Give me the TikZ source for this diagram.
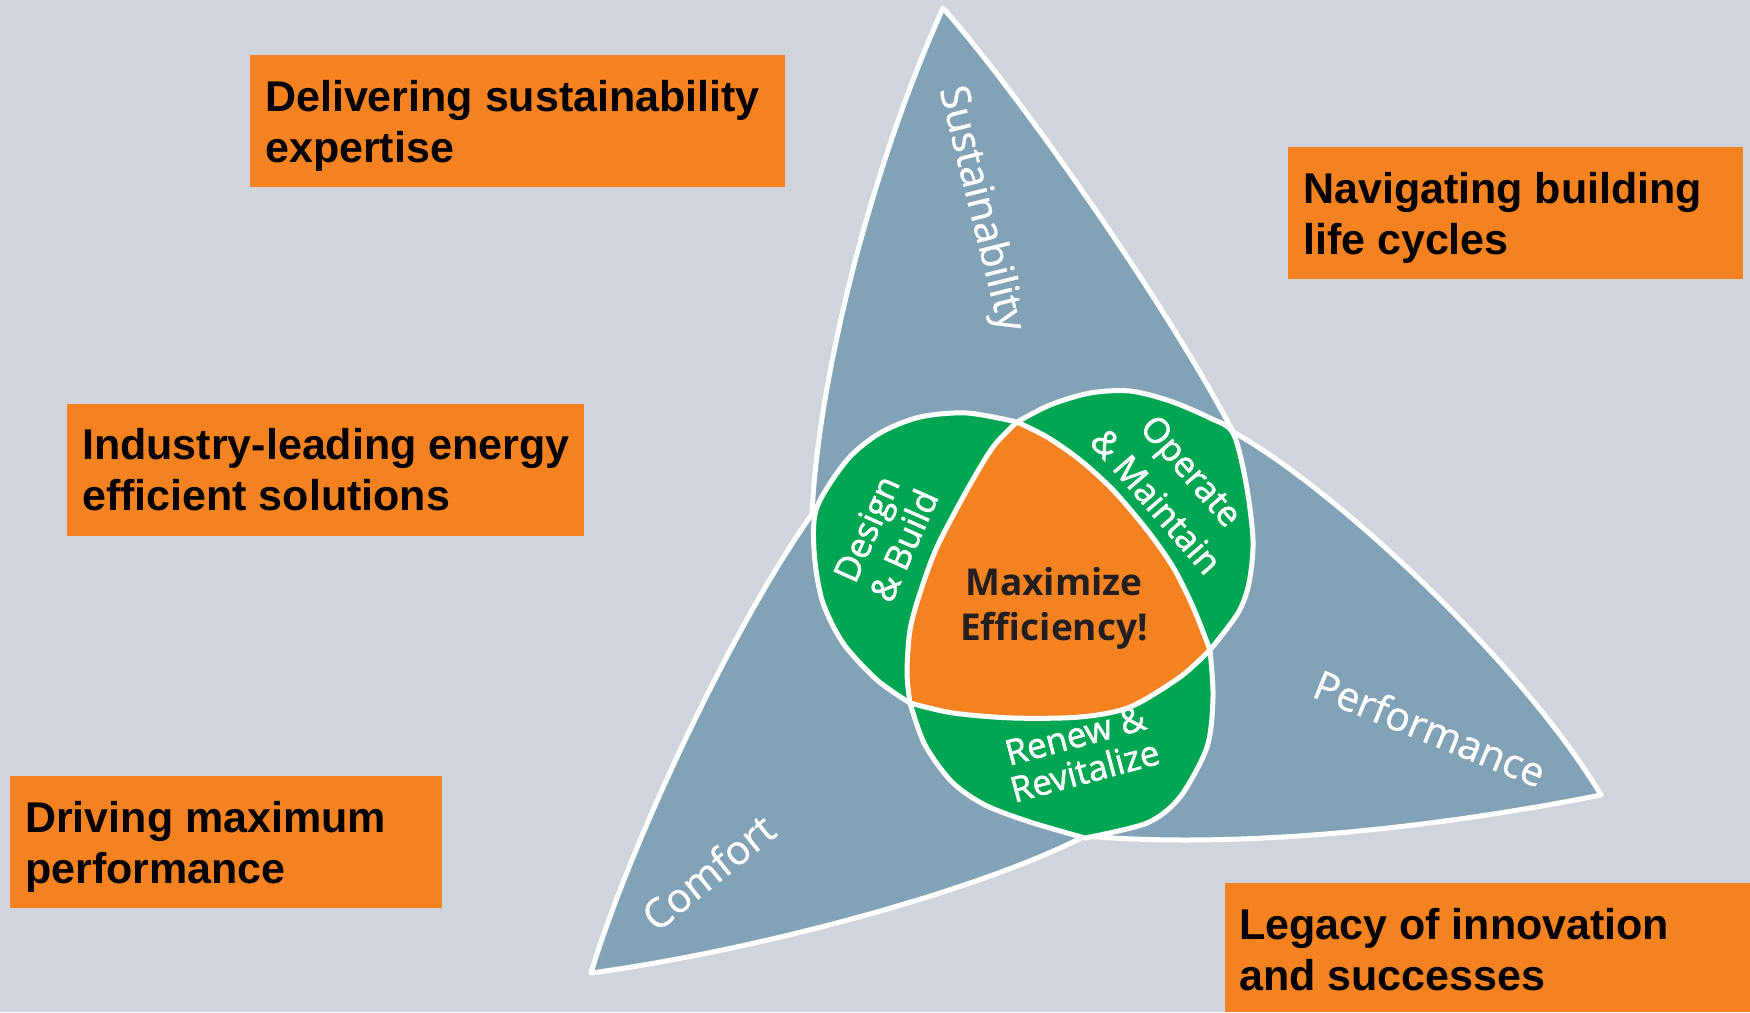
\documentclass[tikz,border=0pt]{standalone}
\usepackage{fontspec}
\setmainfont{Liberation Sans}
\newfontfamily\petalfont{Open Sans}[FakeBold=0.8]
\newfontfamily\lobefont{Open Sans}[FakeBold=1.6]
\newfontfamily\corefont{Open Sans}
\definecolor{bg}{HTML}{D0D4DC}
\definecolor{petal}{HTML}{82A2B7}
\definecolor{lobe}{HTML}{00A651}
\definecolor{core}{HTML}{F58220}
\definecolor{ink}{HTML}{231F20}
\begin{document}
\begin{tikzpicture}[x=1pt,y=-1pt,
  outline/.style={draw=white, line width=5pt, line join=round, line cap=round},
  infobox/.style={fill=core, draw=none, inner sep=0pt, outer sep=0pt, anchor=north west},
  boxtext/.style={anchor=base west, inner sep=0pt, align=left, text=black,
     font=\fontsize{43}{50.5}\selectfont\bfseries},
  petallabel/.style={text=white, inner sep=0pt, font=\petalfont\fontsize{40.5}{48}\selectfont},
  lobelabel/.style={text=white, inner sep=0pt, align=center},
  corelabel/.style={text=ink, inner sep=0pt, align=center,
     font=\corefont\bfseries\fontsize{37}{45}\selectfont},
]
\useasboundingbox (0,0) rectangle (1750,1012);
\fill[bg] (0,0) rectangle (1750,1012);

% petals
\coordinate (tipS) at (943,8);
\coordinate (tipP) at (1601,795);
\coordinate (tipC) at (591,973);
\coordinate (q1) at (1233,432);
\coordinate (q2) at (1085,836);
\coordinate (q3) at (812,514);
\path[fill=petal, outline]
  (tipS) .. controls (1020,95) and (1170,310) .. (q1)
  .. controls (1330,485) and (1520,660) .. (tipP)
  .. controls (1450,825) and (1250,850) .. (q2)
  .. controls (980,890) and (760,950) .. (tipC)
  .. controls (628,850) and (730,630) .. (q3)
  .. controls (818,380) and (870,170) .. (tipS)
  -- cycle;

% green lobes
\path[fill=lobe, outline]
  (1017,422)
  -- plot[smooth] coordinates {(1017,422) (1050,405) (1090,393) (1130,391) (1170,401) (1210,418) (1233,433) (1246,483) (1253,540) (1249,583) (1238,613) (1210,650)}
  -- plot[smooth] coordinates {(1210,650) (1213,697) (1207,747) (1180,797) (1147,823) (1085,838)}
  -- plot[smooth] coordinates {(1085,838) (1030,822) (985,805) (952,782) (925,745) (910,703)}
  -- plot[smooth] coordinates {(910,703) (877,680) (843,643) (822,600) (814,550) (817,507) (847,460) (880,433) (920,417) (967,413) (1017,422)}
  -- cycle;

% orange core
\path[fill=core, outline]
  (1017,422)
  -- plot[smooth] coordinates {(1017,422) (1047,437) (1080,460) (1113,490) (1147,530) (1173,567) (1193,607) (1210,650)}
  -- plot[smooth] coordinates {(1210,650) (1180,677) (1130,707) (1080,717) (1013,718) (953,713) (910,703)}
  -- plot[smooth] coordinates {(910,703) (907,673) (910,630) (920,593) (937,547) (967,490) (993,447) (1017,422)}
  -- cycle;

% petal labels
\node[petallabel, rotate=-76] (sust) at (980,209) {Sustainability};
\node[petallabel, rotate=-22] (perf) at (1430,728) {Performance};
\node[petallabel, rotate=39] (comf) at (708,872) {Comfort};

% lobe labels
\node[lobelabel, rotate=66, font=\lobefont\fontsize{35}{41}\selectfont] (design) at (885,537) {Design\\\& Build};
\node[lobelabel, rotate=-49, font=\lobefont\fontsize{35}{47}\selectfont] (operate) at (1174,486) {Operate\\\& Maintain};
\node[lobelabel, rotate=15, font=\lobefont\fontsize{35}{37}\selectfont] (renew) at (1080,753) {Renew \&\\Revitalize};

% core label
\node[corelabel] (maxeff) at (1054,608) {Maximize\\Efficiency!};

% boxes
\node[infobox, minimum width=535pt, minimum height=132pt] (box1) at (250,55) {};
\node[boxtext] (txt1) at (265,162) {Delivering sustainability\\expertise};
\node[infobox, minimum width=455pt, minimum height=132pt] (box2) at (1288,147) {};
\node[boxtext] (txt2) at (1303,254) {Navigating building\\life cycles};
\node[infobox, minimum width=517pt, minimum height=132pt] (box3) at (67,404) {};
\node[boxtext] (txt3) at (82,510) {Industry-leading energy\\efficient solutions};
\node[infobox, minimum width=432pt, minimum height=132pt] (box4) at (10,776) {};
\node[boxtext] (txt4) at (25,883) {Driving maximum\\performance};
\node[infobox, minimum width=525pt, minimum height=129pt] (box5) at (1225,883) {};
\node[boxtext] (txt5) at (1239,990) {Legacy of innovation\\and successes};
\end{tikzpicture}
\end{document}
